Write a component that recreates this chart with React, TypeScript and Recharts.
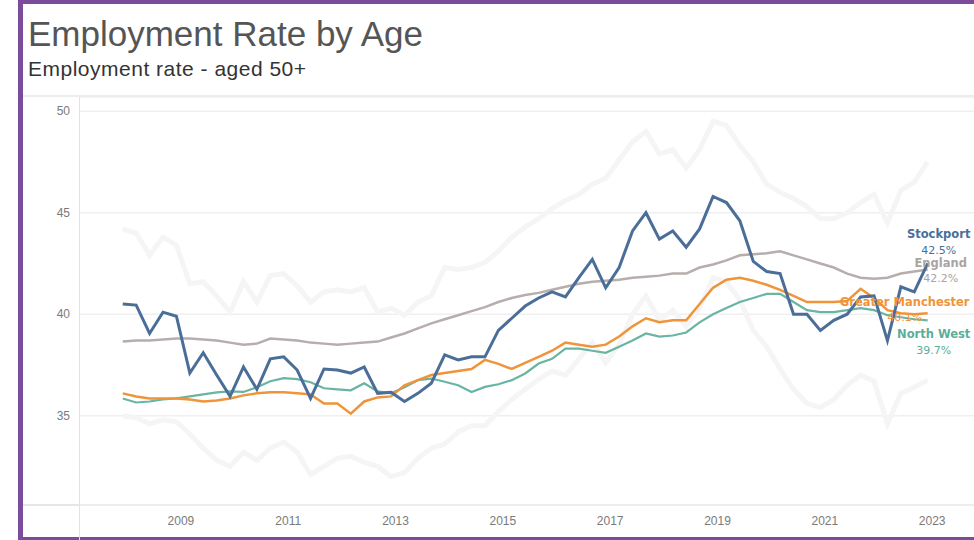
import { LineChart, Line, XAxis, YAxis, CartesianGrid } from "recharts";

const periods = [
  "2007-12",
  "2008-03", "2008-06", "2008-09", "2008-12",
  "2009-03", "2009-06", "2009-09", "2009-12",
  "2010-03", "2010-06", "2010-09", "2010-12",
  "2011-03", "2011-06", "2011-09", "2011-12",
  "2012-03", "2012-06", "2012-09", "2012-12",
  "2013-03", "2013-06", "2013-09", "2013-12",
  "2014-03", "2014-06", "2014-09", "2014-12",
  "2015-03", "2015-06", "2015-09", "2015-12",
  "2016-03", "2016-06", "2016-09", "2016-12",
  "2017-03", "2017-06", "2017-09", "2017-12",
  "2018-03", "2018-06", "2018-09", "2018-12",
  "2019-03", "2019-06", "2019-09", "2019-12",
  "2020-03", "2020-06", "2020-09", "2020-12",
  "2021-03", "2021-06", "2021-09", "2021-12",
  "2022-03", "2022-06", "2022-09", "2022-12",
];

const stockport = [
  40.5, 40.45, 39.05, 40.1, 39.9, 37.1, 38.1, 37.0, 35.95, 37.4, 36.3, 37.8, 37.9,
  37.25, 35.85, 37.3, 37.25, 37.1, 37.4, 36.1, 36.15, 35.7, 36.1, 36.6, 38.0, 37.75,
  37.9, 37.9, 39.2, 39.8, 40.4, 40.8, 41.1, 40.85, 41.8, 42.7, 41.3, 42.3, 44.1, 45.0,
  43.7, 44.1, 43.3, 44.2, 45.8, 45.5, 44.6, 42.6, 42.1, 42.0, 40.0, 40.0, 39.2, 39.7,
  40.0, 40.85, 40.9, 38.7, 41.35, 41.1, 42.5,
];
const england = [
  38.65, 38.7, 38.7, 38.75, 38.8, 38.8, 38.75, 38.7, 38.6, 38.5, 38.55, 38.8, 38.75,
  38.7, 38.6, 38.55, 38.5, 38.55, 38.6, 38.65, 38.85, 39.05, 39.3, 39.55, 39.75, 39.95,
  40.15, 40.35, 40.6, 40.8, 40.95, 41.05, 41.2, 41.35, 41.5, 41.6, 41.65, 41.7, 41.8,
  41.85, 41.9, 42.0, 42.0, 42.3, 42.45, 42.65, 42.9, 42.95, 43.0, 43.1, 42.9, 42.7,
  42.5, 42.3, 42.0, 41.8, 41.75, 41.8, 42.0, 42.1, 42.2,
];
const greaterManchester = [
  36.1, 35.95, 35.85, 35.85, 35.85, 35.8, 35.7, 35.75, 35.85, 36.0, 36.1, 36.15, 36.15,
  36.1, 36.05, 35.6, 35.6, 35.1, 35.7, 35.9, 35.95, 36.5, 36.75, 37.0, 37.1, 37.2,
  37.3, 37.75, 37.55, 37.3, 37.6, 37.9, 38.2, 38.6, 38.5, 38.4, 38.5, 38.9, 39.4, 39.8,
  39.6, 39.7, 39.7, 40.5, 41.3, 41.7, 41.8, 41.65, 41.45, 41.2, 40.9, 40.6, 40.6, 40.6,
  40.65, 41.25, 40.8, 40.2, 40.05, 40.0, 40.05,
];
const northWest = [
  35.85, 35.65, 35.7, 35.8, 35.85, 35.95, 36.05, 36.15, 36.2, 36.17, 36.4, 36.7, 36.85,
  36.8, 36.65, 36.35, 36.3, 36.25, 36.6, 36.2, 36.1, 36.4, 36.75, 36.83, 36.67, 36.5,
  36.17, 36.42, 36.55, 36.75, 37.08, 37.57, 37.8, 38.3, 38.3, 38.2, 38.1, 38.4, 38.7,
  39.05, 38.9, 38.95, 39.1, 39.6, 40.0, 40.3, 40.6, 40.8, 41.0, 41.0, 40.6, 40.2, 40.1,
  40.1, 40.2, 40.3, 40.2, 39.95, 39.85, 39.75, 39.7,
];
// faint confidence band behind Stockport
const stockportUpper = [
  44.2, 44.0, 42.9, 43.8, 43.4, 41.5, 41.6, 40.9, 40.1, 41.6, 40.6, 41.9, 42.0, 41.4,
  40.6, 41.1, 41.2, 41.1, 41.3, 40.1, 40.3, 39.95, 40.6, 40.9, 42.3, 42.2, 42.3, 42.55,
  43.1, 43.8, 44.3, 44.7, 45.2, 45.6, 45.9, 46.4, 46.7, 47.6, 48.5, 49.0, 47.9, 48.1,
  47.2, 48.1, 49.5, 49.3, 48.3, 47.5, 46.4, 46.0, 45.7, 45.3, 44.7, 44.7, 45.0, 45.5,
  45.9, 44.5, 46.1, 46.5, 47.5,
];
const stockportLower = [
  35.0, 34.9, 34.6, 34.8, 34.7, 34.1, 33.4, 32.8, 32.5, 33.2, 32.8, 33.4, 33.7, 33.2,
  32.1, 32.5, 32.9, 33.0, 32.7, 32.5, 32.0, 32.2, 32.9, 33.4, 33.6, 34.2, 34.5, 34.5,
  35.2, 35.8, 36.3, 36.8, 37.2, 37.0, 37.8, 38.6, 37.6, 38.5, 40.0, 40.9, 39.7, 40.2,
  39.4, 40.3, 41.8, 41.6, 40.7, 39.2, 38.4, 37.3, 36.3, 35.6, 35.4, 35.8, 36.5, 37.0,
  36.7, 34.6, 36.1, 36.4, 36.75,
];

const yearTicks = [2009, 2011, 2013, 2015, 2017, 2019, 2021, 2023];
const rateTicks = [35, 40, 45, 50];

const rows = periods.map((p, i) => {
  const [yy, mm] = p.split("-").map(Number);
  return {
    t: yy + (mm - 1) / 12,
    stockport: stockport[i],
    england: england[i],
    gm: greaterManchester[i],
    nw: northWest[i],
    upper: stockportUpper[i],
    lower: stockportLower[i],
  };
});
const last = rows.length - 1;

const BLUE = "#4a6e98";
const GREY = "#b5aeac";
const ORANGE = "#f0943a";
const TEAL = "#6ab4a3";

function endLabel(name: string, value: string, color: string, dx: number, dy1: number, dy2: number) {
  return (props: any) => {
    const { x, y, index } = props;
    if (index !== last) return null;
    return (
      <g>
        <text x={x + dx} y={y + dy1} textAnchor="middle" dominantBaseline="central"
          fill={color} fontWeight="bold" fontSize={11.5} fontFamily="DejaVu Sans">{name}</text>
        <text x={x + dx} y={y + dy2} textAnchor="middle" dominantBaseline="central"
          fill={color} fontSize={11} fontFamily="DejaVu Sans">{value}</text>
      </g>
    );
  };
}

export default function App() {
  return (
    <div style={{ position: "absolute", left: 0, top: 0, width: 974, height: 540, background: "#fff", overflow: "hidden", fontFamily: "'Liberation Sans', Arial, sans-serif" }}>
      {/* purple frame */}
      <div style={{ position: "absolute", left: 18, top: 0, width: 5, height: 540, background: "#7b4c9c" }} />
      <div style={{ position: "absolute", left: 18, top: 0, width: 956, height: 4, background: "#7b4c9c" }} />
      <div style={{ position: "absolute", left: 18, top: 537, width: 956, height: 3, background: "#7b4c9c" }} />

      <div style={{ position: "absolute", left: 28, top: 14, fontSize: 35, color: "#555", whiteSpace: "nowrap" }}>
        Employment Rate by Age
      </div>
      <div style={{ position: "absolute", left: 28, top: 57, fontSize: 21, color: "#333", letterSpacing: 0.5, whiteSpace: "nowrap" }}>
        Employment rate - aged 50+
      </div>

      <div style={{ position: "absolute", left: 23, top: 95, width: 951, height: 2, background: "#ececec" }} />
      <div style={{ position: "absolute", left: 23, top: 504, width: 951, height: 2, background: "#e6e6e6" }} />
      <div style={{ position: "absolute", left: 79, top: 97, width: 1, height: 443, background: "#e2e2e2" }} />

      <div style={{ position: "absolute", left: 0, top: 0 }}>
        <LineChart width={974} height={540} data={rows} margin={{ top: 97, right: 0, bottom: 5, left: 30 }}>
          <CartesianGrid vertical={false} stroke="#efefef" strokeWidth={1.5} />
          <XAxis
            dataKey="t" type="number" domain={[2007.12, 2023.78]} ticks={yearTicks}
            allowDataOverflow axisLine={false} tickLine={false} tickSize={0} tickMargin={11} height={30}
            tick={{ fill: "#7a7a7a", fontSize: 12, fontFamily: "Liberation Sans" }}
          />
          <YAxis
            type="number" domain={[30.6, 50.7]} ticks={rateTicks} allowDataOverflow
            axisLine={false} tickLine={false} tickSize={0} tickMargin={10} width={50}
            tick={{ fill: "#7a7a7a", fontSize: 12, fontFamily: "Liberation Sans" }}
          />
          <Line dataKey="upper" stroke="#f5f5f5" strokeWidth={5} dot={false} isAnimationActive={false} />
          <Line dataKey="lower" stroke="#f5f5f5" strokeWidth={5} dot={false} isAnimationActive={false} />
          <Line dataKey="england" stroke={GREY} strokeWidth={2.5} dot={false} isAnimationActive={false}
            label={endLabel("England", "42.2%", "#aaa4a3", 13, -7, 9)} />
          <Line dataKey="nw" stroke={TEAL} strokeWidth={2.2} dot={false} isAnimationActive={false}
            label={endLabel("North West", "39.7%", "#5aae9c", 6, 14, 30)} />
          <Line dataKey="gm" stroke={ORANGE} strokeWidth={2.5} dot={false} isAnimationActive={false}
            label={endLabel("Greater Manchester", "40.1%", ORANGE, -23, -11, 4)} />
          <Line dataKey="stockport" stroke={BLUE} strokeWidth={3} dot={false} isAnimationActive={false}
            label={endLabel("Stockport", "42.5%", BLUE, 11, -29, -13)} />
        </LineChart>
      </div>
    </div>
  );
}
